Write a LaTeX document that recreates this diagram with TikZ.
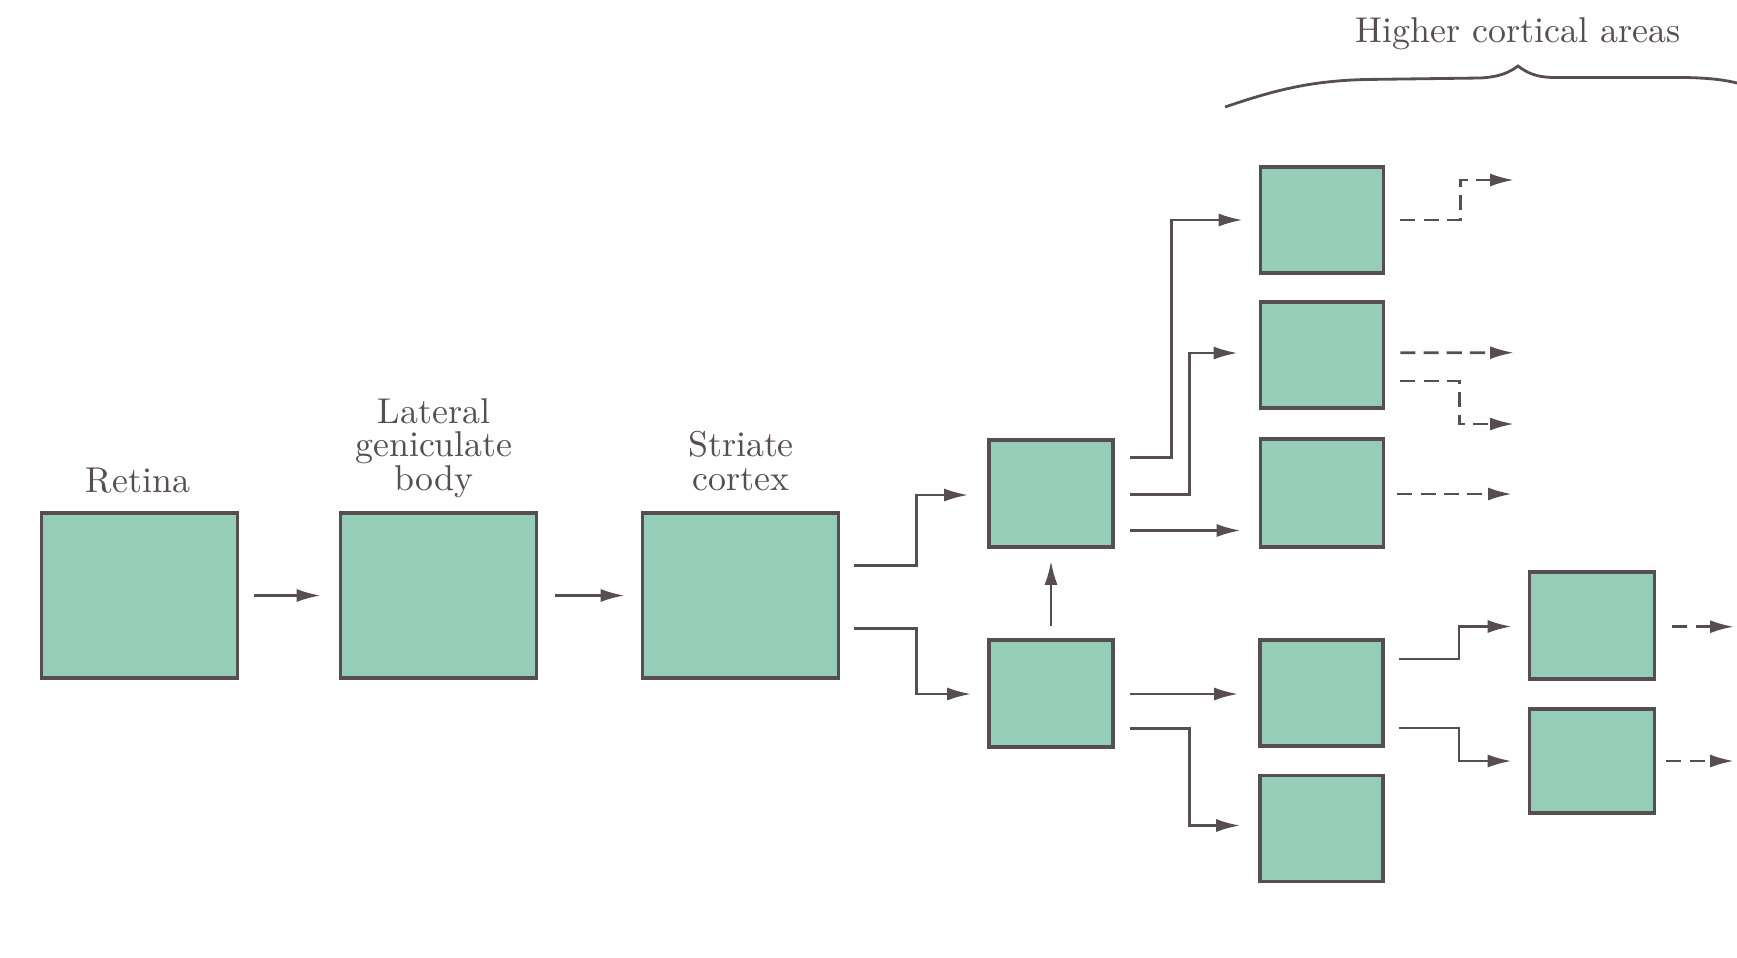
\documentclass[tikz,border=0pt]{standalone}
\usetikzlibrary{arrows.meta,calc}
\definecolor{boxfill}{RGB}{148,206,184}
\definecolor{ink}{RGB}{88,78,80}
\begin{document}
\begin{tikzpicture}[x=0.01cm,y=-0.01cm,
  box/.style={draw=ink, line width=1.0pt, fill=boxfill, inner sep=0pt,
              minimum width=1.23cm, minimum height=1.06cm},
  bigbox/.style={box, minimum width=1.96cm, minimum height=1.65cm},
  arr/.style={draw=ink, line width=0.75pt, -{Latex[length=2.4mm,width=1.3mm]}},
  darr/.style={arr, dash pattern=on 4.3pt off 2.3pt},
  lbl/.style={text=ink, font=\fontsize{10.2}{10}\selectfont, inner sep=0pt, anchor=base}]
\useasboundingbox (0,0) rectangle (1737,957);

% boxes
\node[bigbox] (R) at (139.5,595.5) {};
\node[bigbox] (L) at (438.5,595.5) {};
\node[bigbox] (S) at (740.5,595.5) {};
\node[box, minimum width=1.24cm, minimum height=1.07cm] (A) at (1051,493.5) {};
\node[box, minimum width=1.24cm, minimum height=1.07cm] (B) at (1051,693.5) {};
\node[box] (C1) at (1322,220) {};
\node[box] (C2) at (1322,355) {};
\node[box, minimum height=1.08cm] (C3) at (1322,493) {};
\node[box] (C4) at (1321.5,693) {};
\node[box] (C5) at (1321.5,828.5) {};
\node[box, minimum width=1.25cm, minimum height=1.07cm] (D) at (1592,625.5) {};
\node[box, minimum width=1.25cm, minimum height=1.04cm] (E) at (1592,761) {};

% labels
\node[lbl] (tR) at (138,492) {Retina};
\node[lbl] (tL1) at (434,423) {Lateral};
\node[lbl] (tL2) at (434,456.5) {geniculate};
\node[lbl] (tL3) at (434,490) {body};
\node[lbl] (tS1) at (741,456.5) {Striate};
\node[lbl] (tS2) at (741,490) {cortex};
\node[lbl] (tH) at (1518,42.5) {Higher cortical areas};

% brace
\draw[ink, line width=0.8pt] (1225,107) .. controls (1275,90) and (1310,81) .. (1365,79.5)
  -- (1480,78) .. controls (1500,77) and (1510,72) .. (1518,66)
  .. controls (1526,72) and (1535,77.5) .. (1555,77.5)
  -- (1685,77.5) .. controls (1710,78) and (1725,80) .. (1737,83);

% solid connectors
\draw[arr] ($(R.east)+(15,0)$) -- ($(L.west)+(-18,0)$);
\draw[arr] ($(L.east)+(17,0)$) -- ($(S.west)+(-16,0)$);
\draw[arr] ($(S.east)+(14,-30)$) -- ++(62,0) |- ($(A.west)+(-19,1.5)$);
\draw[arr] ($(S.east)+(14,33)$) -- ++(62,0) |- ($(B.west)+(-16,0.5)$);
\draw[arr] ($(B.north)+(0,-12)$) -- ($(A.south)+(0,12)$);
\draw[arr] ($(A.east)+(15,-36)$) -- ++(42,0) |- ($(C1.west)+(-16,0)$);
\draw[arr] ($(A.east)+(15,1)$) -- ++(60,0) |- ($(C2.west)+(-21,-2)$);
\draw[arr] ($(A.east)+(15,37)$) -- ($(C3.west)+(-18,37.5)$);
\draw[arr] ($(B.east)+(15,0.5)$) -- ($(C4.west)+(-20,1)$);
\draw[arr] ($(B.east)+(15,35)$) -- ++(60,0) |- ($(C5.west)+(-18,-3)$);
\draw[arr] ($(C4.east)+(14,-34)$) -- ++(60,0) |- ($(D.west)+(-16,1)$);
\draw[arr] ($(C4.east)+(14,35)$) -- ++(60,0) |- ($(E.west)+(-16,0)$);

% dashed outputs
\coordinate (o1) at (1514,180);
\coordinate (o2) at (1514,352.7);
\coordinate (o3) at (1514,424);
\coordinate (o4) at (1512,494);
\coordinate (o5) at (1734,626.7);
\coordinate (o6) at (1734,761);
\draw[darr] ($(C1.east)+(15,0)$) -- ++(60,0) |- (o1);
\draw[darr] ($(C2.east)+(15,-2.3)$) -- (o2);
\draw[darr] ($(C2.east)+(15,26)$) -- ++(59,0) |- (o3);
\draw[darr] ($(C3.east)+(12,1)$) -- (o4);
\draw[darr] ($(D.east)+(16,1.2)$) -- (o5);
\draw[darr] ($(E.east)+(10,0)$) -- (o6);
\end{tikzpicture}
\end{document}
